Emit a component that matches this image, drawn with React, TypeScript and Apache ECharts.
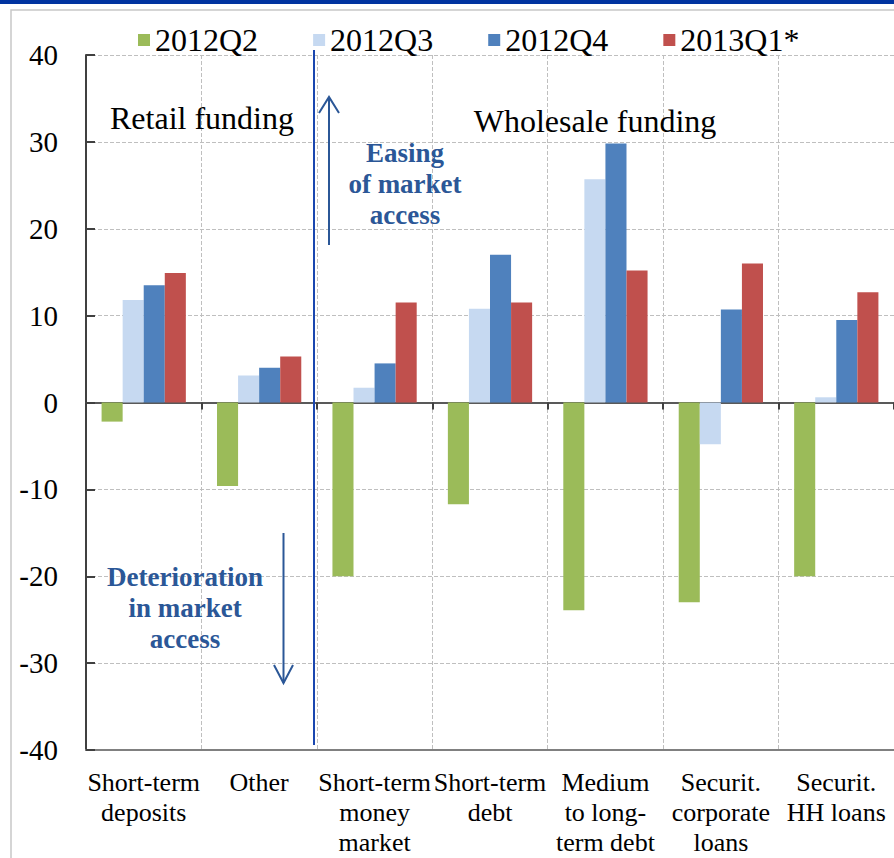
import React, { useEffect, useRef } from "react";
import * as echarts from "echarts";

const categories = [
  "Short-term\ndeposits",
  "Other",
  "Short-term\nmoney\nmarket",
  "Short-term\ndebt",
  "Medium\nto long-\nterm debt",
  "Securit.\ncorporate\nloans",
  "Securit.\nHH loans",
];
const seriesNames = ["2012Q2", "2012Q3", "2012Q4", "2013Q1*"];
const q2_2012 = [-2.2, -9.6, -20.0, -11.7, -23.9, -23.0, -20.0];
const q3_2012 = [11.8, 3.1, 1.7, 10.8, 25.7, -4.8, 0.6];
const q4_2012 = [13.5, 4.0, 4.5, 17.0, 29.8, 10.7, 9.5];
const q1_2013 = [14.9, 5.3, 11.5, 11.5, 15.2, 16.0, 12.7];
const yTicks = { min: -40, max: 40, interval: 10 };
const colors = ["#9BBB59", "#C6D9F1", "#4F81BD", "#C0504D"];

const SERIF = "'Liberation Serif', 'Times New Roman', serif";
const NAVY = "#2B5797";

export default function App() {
  const ref = useRef<HTMLDivElement>(null);
  useEffect(() => {
    document.body.style.margin = "0";
    const chart = echarts.init(ref.current!, null, { renderer: "svg" });
    const values = [q2_2012, q3_2012, q4_2012, q1_2013];
    chart.setOption({
      animation: false,
      backgroundColor: "#ffffff",
      textStyle: { fontFamily: SERIF },
      legend: {
        data: seriesNames,
        left: 133,
        top: 19,
        itemWidth: 12,
        itemHeight: 12,
        itemGap: 55,
        icon: "rect",
        textStyle: { fontFamily: SERIF, fontSize: 32, color: "#000" },
      },
      grid: {
        left: 86,
        right: 0,
        top: 55,
        bottom: 108,
        containLabel: false,
        outerBoundsMode: "none",
      },
      xAxis: [
        {
          type: "category",
          data: categories,
          position: "bottom",
          axisLine: { onZero: false, lineStyle: { color: "#808080", width: 2 } },
          axisTick: { show: false },
          splitLine: { show: true, lineStyle: { color: "#BFBFBF", type: "dashed", width: 1 } },
          axisLabel: {
            interval: 0,
            fontFamily: SERIF,
            fontSize: 26,
            lineHeight: 30,
            color: "#000",
            margin: 17,
          },
        },
        {
          type: "category",
          data: categories,
          position: "bottom",
          axisLine: { onZero: true, lineStyle: { color: "#595959", width: 2 } },
          axisTick: { show: true, length: 7, lineStyle: { color: "#404040", width: 2 } },
          axisLabel: { show: false },
          splitLine: { show: false },
        },
      ],
      yAxis: {
        type: "value",
        min: yTicks.min,
        max: yTicks.max,
        interval: yTicks.interval,
        axisLine: { show: true, lineStyle: { color: "#404040", width: 2 } },
        axisTick: { show: true, inside: true, length: 9, lineStyle: { color: "#404040", width: 2 } },
        splitLine: { show: true, lineStyle: { color: "#BFBFBF", type: "dashed", width: 1 } },
        axisLabel: { fontFamily: SERIF, fontSize: 29, color: "#000", margin: 28 },
      },
      series: seriesNames.map((name, i) => ({
        name,
        type: "bar",
        xAxisIndex: 0,
        data: values[i],
        barGap: "0%",
        barCategoryGap: "27%",
        itemStyle: { color: colors[i] },
      })),
      graphic: [
        { type: "rect", shape: { x: 0, y: 0, width: 894, height: 4 }, style: { fill: "#0033A0" }, z: 10 },
        {
          type: "rect",
          shape: { x: 11, y: 10, width: 900, height: 900 },
          style: { fill: "none", stroke: "#C8C8C8", lineWidth: 1.5 },
          z: -10,
        },
        {
          type: "line",
          shape: { x1: 314, y1: 50, x2: 314, y2: 745 },
          style: { stroke: "#1A47B0", lineWidth: 2 },
          z: 20,
        },
        {
          type: "polyline",
          shape: { points: [[329, 245], [329, 97]] },
          style: { stroke: NAVY, lineWidth: 2, fill: "none" },
          z: 20,
        },
        {
          type: "polyline",
          shape: { points: [[319, 113], [329, 97], [339, 113]] },
          style: { stroke: NAVY, lineWidth: 2, fill: "none" },
          z: 20,
        },
        {
          type: "polyline",
          shape: { points: [[283.5, 533], [283.5, 683]] },
          style: { stroke: NAVY, lineWidth: 2, fill: "none" },
          z: 20,
        },
        {
          type: "polyline",
          shape: { points: [[274, 665], [283.5, 683], [293, 665]] },
          style: { stroke: NAVY, lineWidth: 2, fill: "none" },
          z: 20,
        },
        {
          type: "text",
          x: 202,
          y: 118,
          style: {
            text: "Retail funding",
            fill: "#000",
            font: `32px ${SERIF}`,
            align: "center",
            verticalAlign: "middle",
            textAlign: "center",
            textVerticalAlign: "middle",
          },
          z: 20,
        },
        {
          type: "text",
          x: 595,
          y: 121,
          style: {
            text: "Wholesale funding",
            fill: "#000",
            font: `32px ${SERIF}`,
            align: "center",
            verticalAlign: "middle",
            textAlign: "center",
            textVerticalAlign: "middle",
          },
          z: 20,
        },
        {
          type: "text",
          x: 405,
          y: 184,
          style: {
            text: "Easing\nof market\naccess",
            fill: NAVY,
            font: `bold 27px ${SERIF}`,
            lineHeight: 31,
            align: "center",
            verticalAlign: "middle",
            textAlign: "center",
            textVerticalAlign: "middle",
          },
          z: 20,
        },
        {
          type: "text",
          x: 185,
          y: 608,
          style: {
            text: "Deterioration\nin market\naccess",
            fill: NAVY,
            font: `bold 27px ${SERIF}`,
            lineHeight: 31,
            align: "center",
            verticalAlign: "middle",
            textAlign: "center",
            textVerticalAlign: "middle",
          },
          z: 20,
        },
      ],
    });
    return () => chart.dispose();
  }, []);
  return <div ref={ref} style={{ width: 894, height: 858 }} />;
}
